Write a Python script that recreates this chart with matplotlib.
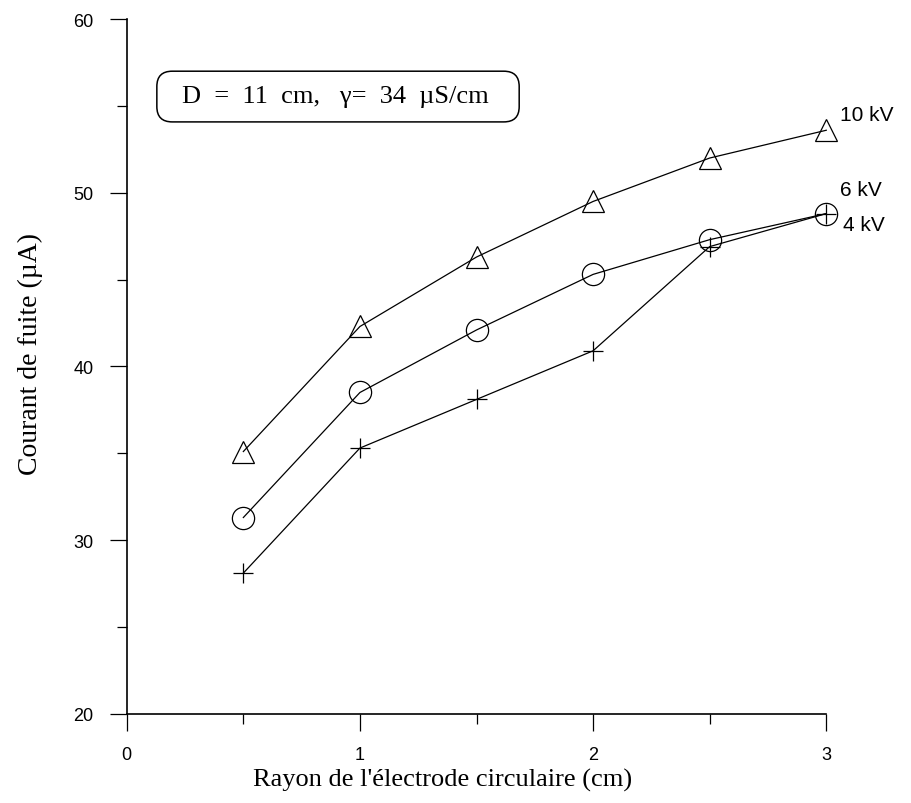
import matplotlib
matplotlib.use("Agg")
import matplotlib.pyplot as plt
from matplotlib.patches import FancyBboxPatch
from matplotlib.ticker import MultipleLocator

# rayon de l'électrode (cm) et courant de fuite (µA) pour chaque tension
rayon = [0.5, 1.0, 1.5, 2.0, 2.5, 3.0]
courant_10kv = [35.1, 42.3, 46.3, 49.5, 52.0, 53.6]
courant_6kv = [31.3, 38.5, 42.1, 45.3, 47.3, 48.8]
courant_4kv = [28.1, 35.3, 38.1, 40.9, 46.9, 48.8]

serif = ["Liberation Serif", "DejaVu Serif"]
sans = ["Liberation Sans", "DejaVu Sans"]
plt.rcParams["font.family"] = sans

fig = plt.figure(figsize=(9.12, 8.04), dpi=100)
ax = fig.add_axes([0.139, 0.111, 0.767, 0.864])

line_kw = dict(color="black", lw=0.9, mfc="none", mec="black", mew=0.9,
               clip_on=False)
ax.plot(rayon, courant_4kv, marker="+", ms=15, **line_kw)
ax.plot(rayon, courant_6kv, marker="o", ms=16, **line_kw)
ax.plot(rayon, courant_10kv, marker="^", ms=16, **line_kw)

ax.set_xlim(0, 3)
ax.set_ylim(20, 60)
ax.spines["top"].set_visible(False)
ax.spines["right"].set_visible(False)
ax.spines["left"].set_linewidth(1.2)
ax.spines["bottom"].set_linewidth(1.2)

ax.xaxis.set_major_locator(MultipleLocator(1))
ax.xaxis.set_minor_locator(MultipleLocator(0.5))
ax.yaxis.set_major_locator(MultipleLocator(10))
ax.yaxis.set_minor_locator(MultipleLocator(5))
ax.tick_params(which="major", direction="out", length=12, width=0.9,
               labelsize=13)
ax.tick_params(which="minor", direction="out", length=7, width=0.9)
ax.tick_params(axis="y", which="major", pad=12)
ax.tick_params(axis="x", which="major", pad=11)

ax.set_xlabel("Rayon de l'électrode circulaire (cm)", family=serif,
              fontsize=19)
ax.xaxis.set_label_coords(0.452, -0.078)
ax.set_ylabel("Courant de fuite (µA)", family=serif, fontsize=20)
ax.yaxis.set_label_coords(-0.12, 0.52)

# cadre arrondi avec les conditions d'essai
ax.add_patch(FancyBboxPatch((0.043, 0.852), 0.518, 0.073,
                            boxstyle="round,pad=0,rounding_size=0.022",
                            transform=ax.transAxes, fc="white", ec="black",
                            lw=1.1, clip_on=False))
ax.text(0.298, 0.889, "D  =  11  cm,   γ=  34  µS/cm", family=serif,
        fontsize=19, ha="center", va="center", transform=ax.transAxes)

ax.text(3.06, 54.5, "10 kV", fontsize=15, ha="left", va="center")
ax.text(3.06, 50.2, "6 kV", fontsize=15, ha="left", va="center")
ax.text(3.07, 48.2, "4 kV", fontsize=15, ha="left", va="center")

fig.savefig("out.png", dpi=100)
